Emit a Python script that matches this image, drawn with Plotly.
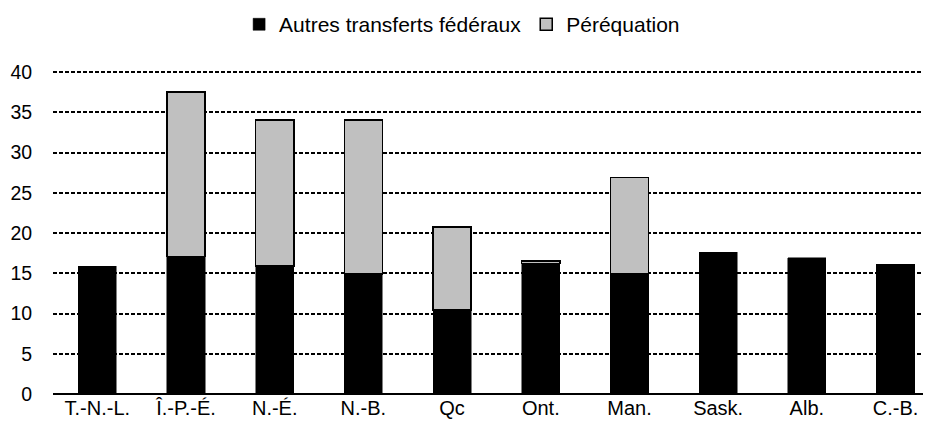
import plotly.graph_objects as go

provinces = ["T.-N.-L.", "Î.-P.-É.", "N.-É.", "N.-B.", "Qc", "Ont.", "Man.", "Sask.", "Alb.", "C.-B."]
autres_transferts = [15.85, 17.1, 15.9, 14.9, 10.45, 16.2, 14.9, 17.6, 16.9, 16.1]
perequation = [None, 20.4, 18.15, 19.15, 10.3, 0.35, 12.0, None, None, None]
y_ticks = [0, 5, 10, 15, 20, 25, 30, 35, 40]

FONT = "Liberation Sans, Arial, sans-serif"

fig = go.Figure()
fig.add_trace(go.Bar(
    x=provinces, y=autres_transferts, name="Autres transferts fédéraux",
    marker=dict(color="#000000", line=dict(color="#000000", width=0.5)),
    width=0.43,
))
fig.add_trace(go.Bar(
    x=provinces, y=perequation, name="Péréquation",
    marker=dict(color="#c0c0c0", line=dict(color="#000000", width=1.5)),
    width=0.43,
))

# the page body has an 8px margin, so the figure is 8px smaller than the window
fig.update_layout(
    barmode="stack",
    width=923, height=421,
    margin=dict(l=45, r=0, t=62, b=35, autoexpand=False),
    paper_bgcolor="white", plot_bgcolor="white",
    font=dict(family=FONT, size=19, color="#000000"),
    showlegend=True,
    legend=dict(orientation="h", xref="container", x=0.492, xanchor="center",
                yref="paper", y=1.14, yanchor="middle",
                font=dict(size=21), traceorder="normal",
                itemwidth=30, bgcolor="rgba(0,0,0,0)"),
    xaxis=dict(
        type="category", range=[-0.5, 9.4], showgrid=False, automargin=False,
        showline=False, ticks="", tickfont=dict(size=20),
    ),
    yaxis=dict(
        range=[0, 40.25], tickvals=y_ticks, showgrid=True, automargin=False,
        gridcolor="#000000", gridwidth=1.5, griddash="4px,2px",
        zeroline=True, zerolinecolor="#000000", zerolinewidth=2,
        showline=False, ticks="outside", ticklen=16, tickcolor="rgba(0,0,0,0)",
        tickfont=dict(size=19.5),
    ),
)

fig.write_html("out.html")
